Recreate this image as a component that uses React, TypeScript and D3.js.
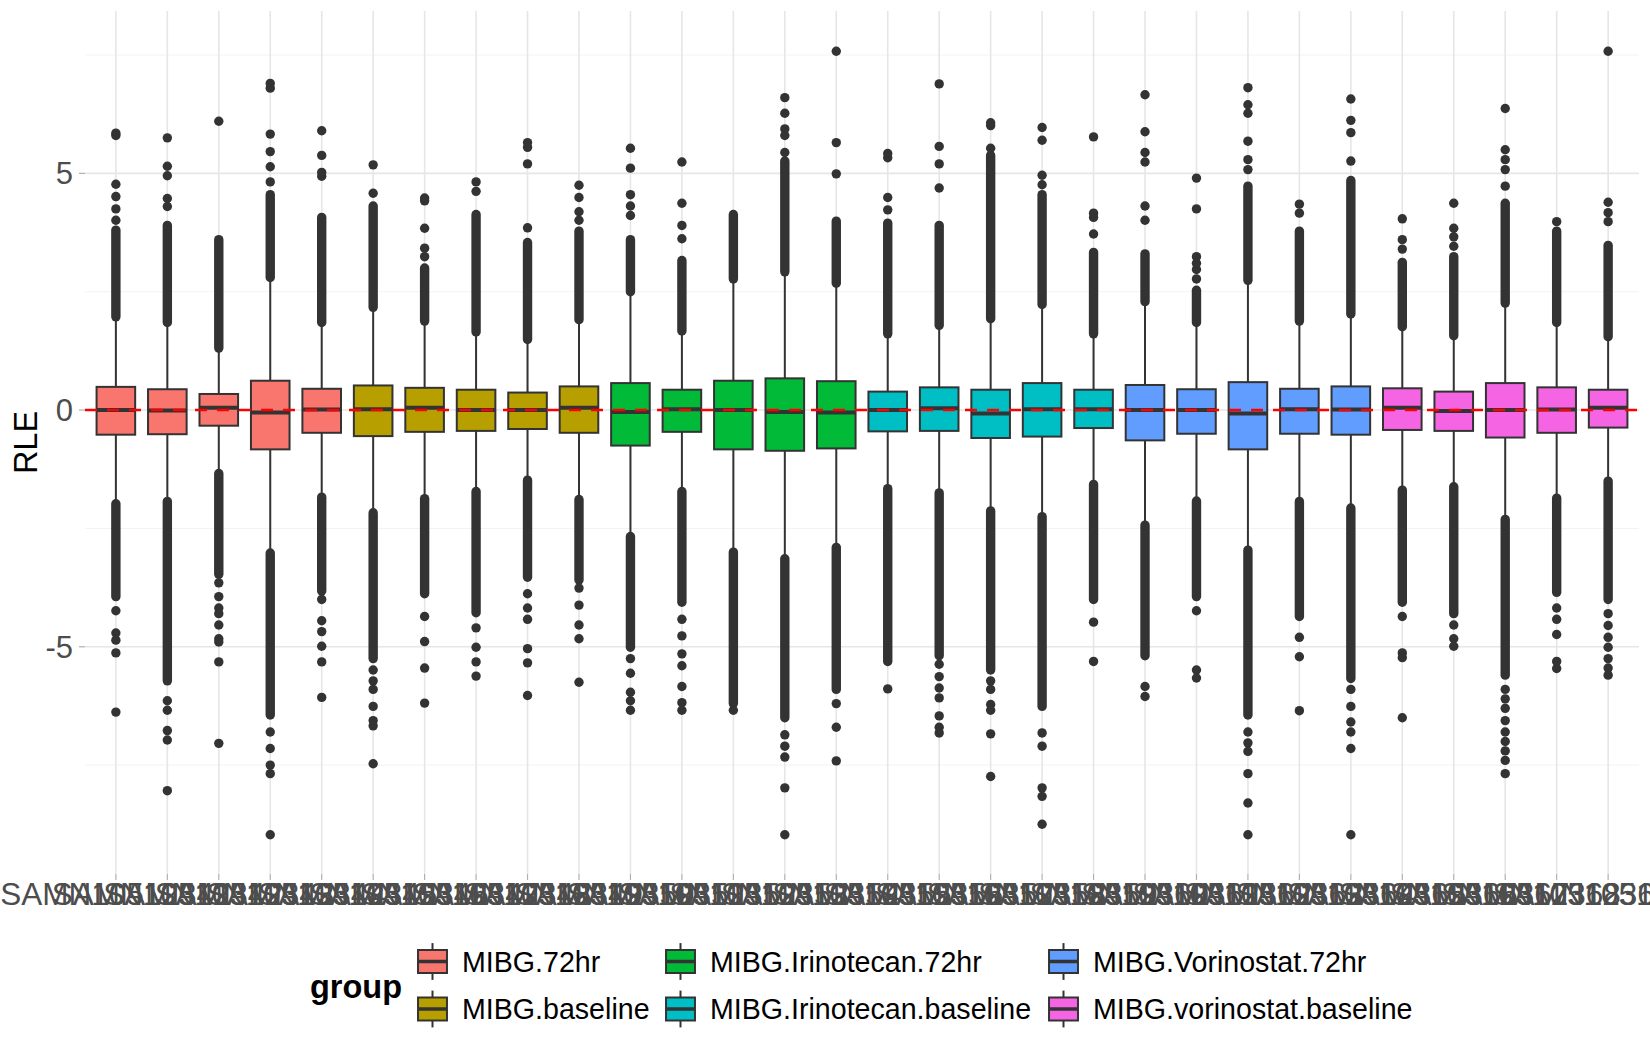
import React, { useRef, useEffect } from "react";
import * as d3 from "d3";

// Sample ids on the x axis (one box per sample)
const sampleIds = [
  "SAMN10512341", "SAMN10512342", "SAMN10512343", "SAMN10512344", "SAMN10512345",
  "SAMN10512346", "SAMN10512347", "SAMN10512348", "SAMN10512349", "SAMN10512350",
  "SAMN10512351", "SAMN10512352", "SAMN10512353", "SAMN10512354", "SAMN10512355",
  "SAMN10512356", "SAMN10512357", "SAMN10512358", "SAMN10512359", "SAMN10512360",
  "SAMN10512361", "SAMN10512362", "SAMN10512363", "SAMN10512364", "SAMN10512365",
  "SAMN10512366", "SAMN10512367", "SAMN10512368", "SAMN10512369", "SAMN10512370",
];

const groupNames = [
  "MIBG.72hr",
  "MIBG.baseline",
  "MIBG.Irinotecan.72hr",
  "MIBG.Irinotecan.baseline",
  "MIBG.Vorinostat.72hr",
  "MIBG.vorinostat.baseline",
];
const groupColors = ["#F8766D", "#B79F00", "#00BA38", "#00BFC4", "#619CFF", "#F564E3"];

const sampleGroups = [
  "MIBG.72hr", "MIBG.72hr", "MIBG.72hr", "MIBG.72hr", "MIBG.72hr",
  "MIBG.baseline", "MIBG.baseline", "MIBG.baseline", "MIBG.baseline", "MIBG.baseline",
  "MIBG.Irinotecan.72hr", "MIBG.Irinotecan.72hr", "MIBG.Irinotecan.72hr", "MIBG.Irinotecan.72hr", "MIBG.Irinotecan.72hr",
  "MIBG.Irinotecan.baseline", "MIBG.Irinotecan.baseline", "MIBG.Irinotecan.baseline", "MIBG.Irinotecan.baseline", "MIBG.Irinotecan.baseline",
  "MIBG.Vorinostat.72hr", "MIBG.Vorinostat.72hr", "MIBG.Vorinostat.72hr", "MIBG.Vorinostat.72hr", "MIBG.Vorinostat.72hr",
  "MIBG.vorinostat.baseline", "MIBG.vorinostat.baseline", "MIBG.vorinostat.baseline", "MIBG.vorinostat.baseline", "MIBG.vorinostat.baseline",
];

// box statistics (RLE)
const q1 = [
  -0.52, -0.51, -0.33, -0.83, -0.48, -0.55, -0.46, -0.44, -0.40, -0.48,
  -0.75, -0.46, -0.83, -0.86, -0.81, -0.45, -0.44, -0.59, -0.56, -0.38,
  -0.64, -0.50, -0.83, -0.50, -0.52, -0.42, -0.44, -0.58, -0.48, -0.37,
];
const medians = [
  0.0, -0.01, 0.05, -0.05, 0.01, 0.02, 0.05, 0.0, 0.0, 0.05,
  -0.04, 0.02, 0.0, -0.04, -0.05, 0.0, 0.04, -0.07, 0.02, 0.02,
  0.0, 0.0, -0.07, 0.02, 0.01, 0.05, -0.02, 0.0, 0.01, 0.05,
];
const q3 = [
  0.49, 0.44, 0.34, 0.62, 0.45, 0.52, 0.47, 0.43, 0.37, 0.50,
  0.57, 0.43, 0.62, 0.67, 0.61, 0.39, 0.48, 0.43, 0.57, 0.43,
  0.53, 0.44, 0.59, 0.45, 0.50, 0.46, 0.39, 0.57, 0.48, 0.43,
];
const whiskerLow = [
  -1.98, -1.90, -1.31, -2.99, -1.81, -2.14, -1.84, -1.69, -1.45, -1.86,
  -2.64, -1.69, -2.97, -3.11, -2.87, -1.63, -1.72, -2.10, -2.22, -1.54,
  -2.40, -1.89, -2.93, -1.90, -2.04, -1.66, -1.59, -2.28, -1.83, -1.47,
];
const whiskerHigh = [
  1.94, 1.82, 1.28, 2.77, 1.82, 2.14, 1.85, 1.62, 1.46, 1.88,
  2.47, 1.64, 2.74, 2.89, 2.65, 1.58, 1.76, 1.90, 2.20, 1.58,
  2.26, 1.82, 2.71, 1.85, 2.00, 1.73, 1.54, 2.23, 1.82, 1.52,
];

// dense runs of overlapping outliers [from, to]
const upperDense = [
  [1.97, 3.8], [1.85, 3.9], [1.31, 3.6], [2.8, 4.55], [1.85, 4.07],
  [2.17, 4.31], [1.88, 3.0], [1.65, 4.13], [1.49, 3.54], [1.91, 3.78],
  [2.5, 3.6], [1.67, 3.16], [2.77, 4.13], [2.92, 5.26], [2.68, 3.99],
  [1.61, 3.95], [1.79, 3.9], [1.93, 5.38], [2.23, 4.55], [1.61, 3.33],
  [2.29, 3.3], [1.85, 2.53], [2.74, 4.73], [1.88, 3.78], [2.03, 4.85],
  [1.76, 3.12], [1.57, 3.24], [2.26, 4.37], [1.85, 3.78], [1.55, 3.48],
];
const lowerDense = [
  [-3.94, -1.98], [-5.72, -1.93], [-3.47, -1.34], [-6.44, -3.02], [-3.82, -1.84],
  [-5.25, -2.17], [-3.88, -1.87], [-4.28, -1.72], [-3.53, -1.48], [-3.59, -1.89],
  [-5.01, -2.67], [-4.06, -1.72], [-6.2, -3.0], [-6.5, -3.14], [-5.9, -2.9],
  [-5.31, -1.66], [-5.19, -1.75], [-5.49, -2.13], [-6.26, -2.25], [-4.0, -1.57],
  [-5.19, -2.43], [-3.94, -1.92], [-6.44, -2.96], [-4.36, -1.93], [-5.67, -2.07],
  [-4.06, -1.69], [-4.3, -1.62], [-5.6, -2.31], [-3.85, -1.86], [-4.0, -1.5],
];

// isolated outliers
const upperOutliers = [
  [4.01, 4.25, 4.51, 4.77, 5.8, 5.85],
  [4.3, 4.47, 4.95, 5.15, 5.75],
  [6.1],
  [4.82, 5.14, 5.46, 5.83, 6.8, 6.9],
  [4.94, 5.02, 5.38, 5.9],
  [4.58, 5.18],
  [3.24, 3.42, 3.84, 4.42, 4.48],
  [4.62, 4.82],
  [3.85, 5.2, 5.55, 5.65],
  [4.01, 4.19, 4.49, 4.75],
  [4.11, 4.31, 4.55, 5.11, 5.53],
  [3.62, 3.9, 4.37, 5.24],
  [],
  [5.44, 5.8, 5.94, 6.27, 6.6],
  [4.99, 5.65, 7.58],
  [4.23, 4.49, 5.33, 5.42],
  [4.69, 5.2, 5.57, 6.89],
  [5.53, 6.01, 6.07],
  [4.76, 4.96, 5.7, 5.97],
  [3.72, 4.07, 4.16, 5.77],
  [4.01, 4.31, 5.24, 5.44, 5.88, 6.66],
  [2.77, 2.97, 3.1, 3.24, 4.25, 4.9],
  [5.08, 5.29, 5.68, 6.27, 6.45, 6.81],
  [4.16, 4.35],
  [5.26, 5.86, 6.12, 6.57],
  [3.4, 3.6, 4.04],
  [3.46, 3.66, 3.84, 4.37],
  [4.73, 5.08, 5.29, 5.5, 6.37],
  [3.98],
  [3.98, 4.17, 4.39, 7.58],
];
const lowerOutliers = [
  [-4.24, -4.71, -4.86, -5.13, -6.38],
  [-6.14, -6.34, -6.77, -6.97, -8.04],
  [-3.65, -3.94, -4.18, -4.3, -4.54, -4.83, -4.9, -5.32, -7.04],
  [-6.8, -7.15, -7.5, -7.68, -8.97],
  [-4.0, -4.45, -4.68, -4.99, -5.32, -6.07],
  [-5.49, -5.72, -5.9, -6.26, -6.56, -6.67, -7.47],
  [-4.36, -4.89, -5.45, -6.19],
  [-4.6, -5.01, -5.32, -5.62],
  [-3.88, -4.18, -4.42, -5.04, -5.34, -6.03],
  [-3.76, -4.12, -4.54, -4.83, -5.75],
  [-5.25, -5.56, -5.96, -6.14, -6.34],
  [-4.42, -4.77, -5.15, -5.4, -5.84, -6.18, -6.34],
  [-6.34],
  [-6.86, -7.1, -7.33, -7.98, -8.97],
  [-6.2, -6.7, -7.41],
  [-5.89],
  [-5.37, -5.63, -5.87, -6.08, -6.46, -6.7, -6.82],
  [-5.72, -5.9, -6.22, -6.34, -6.84, -7.74],
  [-6.82, -7.1, -7.98, -8.16, -8.75],
  [-4.48, -5.31],
  [-5.84, -6.05],
  [-4.24, -5.49, -5.66],
  [-6.8, -7.03, -7.21, -7.68, -8.3, -8.97],
  [-4.8, -5.21, -6.35],
  [-5.9, -6.26, -6.59, -6.8, -7.15, -8.97],
  [-4.36, -5.13, -5.23, -6.5],
  [-4.54, -4.83, -4.99],
  [-5.9, -6.1, -6.3, -6.56, -6.8, -7.0, -7.2, -7.4, -7.68],
  [-4.18, -4.42, -4.74, -5.31, -5.46],
  [-4.3, -4.55, -4.8, -5.01, -5.25, -5.45, -5.6],
];

const yMajorTicks = [-5, 0, 5];
const yMinorTicks = [-7.5, -2.5, 2.5, 7.5];
const yDomain: [number, number] = [-9.8, 8.43];

const FONT = "'Liberation Sans', Arial, Helvetica, sans-serif";

export default function App() {
  const svgRef = useRef<SVGSVGElement>(null);

  useEffect(() => {
    if (!svgRef.current) return;
    const svg = d3.select(svgRef.current);
    svg.selectAll("*").remove();

    const width = 1650;
    const height = 1050;
    const panel = { left: 85, right: 1639, top: 11, bottom: 874 };

    svg.attr("width", width).attr("height", height);
    svg.append("rect").attr("width", width).attr("height", height).attr("fill", "#ffffff");

    const x = d3.scaleBand<string>()
      .domain(sampleIds)
      .range([panel.left, panel.right])
      .paddingInner(0)
      .paddingOuter(0.1);
    const cx = (id: string) => (x(id) ?? 0) + x.bandwidth() / 2;
    const boxW = x.bandwidth() * 0.75;

    const y = d3.scaleLinear().domain(yDomain).range([panel.bottom, panel.top]);

    const colorScale = d3.scaleOrdinal<string, string>().domain(groupNames).range(groupColors);

    // grid
    const grid = svg.append("g");
    grid.selectAll("line.minor")
      .data(yMinorTicks)
      .join("line")
      .attr("x1", panel.left).attr("x2", panel.right)
      .attr("y1", d => y(d)).attr("y2", d => y(d))
      .attr("stroke", "#F0F0F0").attr("stroke-width", 0.9);
    grid.selectAll("line.majorY")
      .data(yMajorTicks)
      .join("line")
      .attr("x1", panel.left).attr("x2", panel.right)
      .attr("y1", d => y(d)).attr("y2", d => y(d))
      .attr("stroke", "#E6E6E6").attr("stroke-width", 1.6);
    grid.selectAll("line.majorX")
      .data(sampleIds)
      .join("line")
      .attr("x1", d => cx(d)).attr("x2", d => cx(d))
      .attr("y1", panel.top).attr("y2", panel.bottom)
      .attr("stroke", "#E6E6E6").attr("stroke-width", 1.6);

    // ticks
    svg.append("g").selectAll("line")
      .data(sampleIds)
      .join("line")
      .attr("x1", d => cx(d)).attr("x2", d => cx(d))
      .attr("y1", panel.bottom).attr("y2", panel.bottom + 6)
      .attr("stroke", "#B0B0B0").attr("stroke-width", 1.2);
    svg.append("g").selectAll("line")
      .data(yMajorTicks)
      .join("line")
      .attr("x1", panel.left - 6).attr("x2", panel.left)
      .attr("y1", d => y(d)).attr("y2", d => y(d))
      .attr("stroke", "#B0B0B0").attr("stroke-width", 1.2);

    // boxes
    const dotR = 4.7;
    const ink = "#333333";
    sampleIds.forEach((id, i) => {
      const g = svg.append("g");
      const c = cx(id);
      const fill = colorScale(sampleGroups[i]);

      // dense outlier runs
      [upperDense[i], lowerDense[i]].forEach(([a, b]) => {
        g.append("line")
          .attr("x1", c).attr("x2", c)
          .attr("y1", y(a)).attr("y2", y(b))
          .attr("stroke", ink)
          .attr("stroke-width", dotR * 2)
          .attr("stroke-linecap", "round");
      });
      g.selectAll("circle")
        .data([...upperOutliers[i], ...lowerOutliers[i]])
        .join("circle")
        .attr("cx", c)
        .attr("cy", d => y(d))
        .attr("r", dotR)
        .attr("fill", ink);

      // whiskers
      g.append("line")
        .attr("x1", c).attr("x2", c)
        .attr("y1", y(q3[i])).attr("y2", y(whiskerHigh[i]))
        .attr("stroke", ink).attr("stroke-width", 2);
      g.append("line")
        .attr("x1", c).attr("x2", c)
        .attr("y1", y(q1[i])).attr("y2", y(whiskerLow[i]))
        .attr("stroke", ink).attr("stroke-width", 2);

      // box
      g.append("rect")
        .attr("x", c - boxW / 2)
        .attr("y", y(q3[i]))
        .attr("width", boxW)
        .attr("height", y(q1[i]) - y(q3[i]))
        .attr("fill", fill)
        .attr("stroke", ink)
        .attr("stroke-width", 2);
      g.append("line")
        .attr("x1", c - boxW / 2).attr("x2", c + boxW / 2)
        .attr("y1", y(medians[i])).attr("y2", y(medians[i]))
        .attr("stroke", ink).attr("stroke-width", 4);
    });

    // reference line at 0
    svg.append("line")
      .attr("x1", panel.left).attr("x2", panel.right)
      .attr("y1", y(0)).attr("y2", y(0))
      .attr("stroke", "#FF0000")
      .attr("stroke-width", 2.4)
      .attr("stroke-dasharray", "12,10");

    // y tick labels
    svg.append("g").selectAll("text")
      .data(yMajorTicks)
      .join("text")
      .attr("x", 73)
      .attr("y", d => y(d) + 11)
      .attr("text-anchor", "end")
      .style("font-family", FONT)
      .style("font-size", "31px")
      .style("fill", "#4D4D4D")
      .text(d => `${d}`);

    // x tick labels (overlapping, as in the original)
    svg.append("g").selectAll("text")
      .data(sampleIds)
      .join("text")
      .attr("x", d => cx(d))
      .attr("y", 905)
      .attr("text-anchor", "middle")
      .style("font-family", FONT)
      .style("font-size", "31.5px")
      .style("fill", "#4D4D4D")
      .text(d => d);

    // y axis title
    svg.append("text")
      .attr("transform", `translate(37,${(panel.top + panel.bottom) / 2}) rotate(-90)`)
      .attr("text-anchor", "middle")
      .style("font-family", FONT)
      .style("font-size", "32.5px")
      .style("fill", "#000000")
      .text("RLE");

    // legend
    const legend = svg.append("g");
    legend.append("text")
      .attr("x", 310)
      .attr("y", 998)
      .style("font-family", FONT)
      .style("font-size", "32.5px")
      .style("font-weight", "bold")
      .style("fill", "#000000")
      .text("group");

    const colKeyCenters = [432.5, 680.5, 1063.5];
    const rowCenters = [961.5, 1009];
    const keyW = 38.6;
    const keyH = 46;
    groupNames.forEach((name, i) => {
      const kx = colKeyCenters[Math.floor(i / 2)];
      const ky = rowCenters[i % 2];
      const item = legend.append("g");
      item.append("line")
        .attr("x1", kx).attr("x2", kx)
        .attr("y1", ky - keyH * 0.4).attr("y2", ky + keyH * 0.4)
        .attr("stroke", ink).attr("stroke-width", 2);
      item.append("rect")
        .attr("x", kx - keyW * 0.375)
        .attr("y", ky - keyH * 0.25)
        .attr("width", keyW * 0.75)
        .attr("height", keyH * 0.5)
        .attr("fill", colorScale(name))
        .attr("stroke", ink)
        .attr("stroke-width", 2);
      item.append("line")
        .attr("x1", kx - keyW * 0.375).attr("x2", kx + keyW * 0.375)
        .attr("y1", ky).attr("y2", ky)
        .attr("stroke", ink).attr("stroke-width", 3.5);
      item.append("text")
        .attr("x", kx + 29.5)
        .attr("y", ky + 10.2)
        .style("font-family", FONT)
        .style("font-size", "28.6px")
        .style("fill", "#000000")
        .text(name);
    });
  }, []);

  return (
    <svg
      ref={svgRef}
      style={{ position: "absolute", left: 0, top: 0, display: "block" }}
    />
  );
}
